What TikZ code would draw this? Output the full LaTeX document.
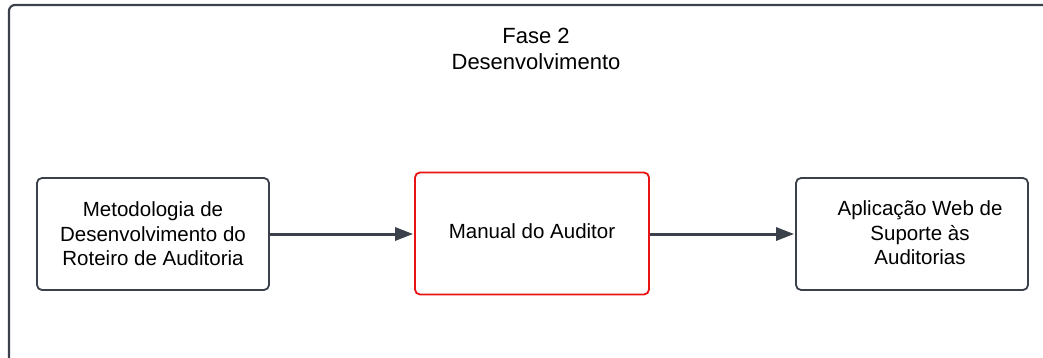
\documentclass[tikz,border=0pt]{standalone}
\usepackage{fontspec}
\setmainfont{Liberation Sans}
\usetikzlibrary{arrows.meta,calc}
\definecolor{edge}{HTML}{3A414A}
\definecolor{redline}{HTML}{E81313}
\tikzset{
  stepbox/.style={draw=edge, line width=1.8pt, rounded corners=5pt, fill=white,
    minimum width=232pt, minimum height=112pt, inner sep=0pt},
  redbox/.style={stepbox, draw=redline, minimum width=234pt, minimum height=122pt},
  boxtext/.style={align=center, font=\fontsize{20.5}{24.5}\selectfont, text=black, inner sep=0pt},
  flow/.style={draw=edge, line width=3pt, -{Triangle[length=18pt,width=13pt]}, shorten >=1pt},
}
\begin{document}
\begin{tikzpicture}[x=1pt,y=-1pt]
\useasboundingbox (0,0) rectangle (1043,358);
\begin{scope}
\clip (0,0) rectangle (1043,358);
\draw[draw=edge, line width=2.2pt, rounded corners=6pt] (9,5) rectangle (1060,380);
\end{scope}
\node[boxtext, font=\fontsize{22}{26.6}\selectfont] (title) at (536,49) {Fase 2\\Desenvolvimento};
\node[stepbox] (left) at (153,234) {};
\node[boxtext] (lefttext) at (153,234) {Metodologia de\\Desenvolvimento do\\Roteiro de Auditoria};
\node[redbox] (mid) at (532,233.5) {};
\node[boxtext] (midtext) at (532,231) {Manual do Auditor};
\node[stepbox] (right) at (912,234) {};
\node[boxtext] (righttext) at (920,233) {Aplicação Web de\\Suporte às\\Auditorias};
\draw[flow] (left.east) -- (left.east -| mid.west);
\draw[flow] (mid.east |- left.east) -- (right.west);
\end{tikzpicture}
\end{document}
